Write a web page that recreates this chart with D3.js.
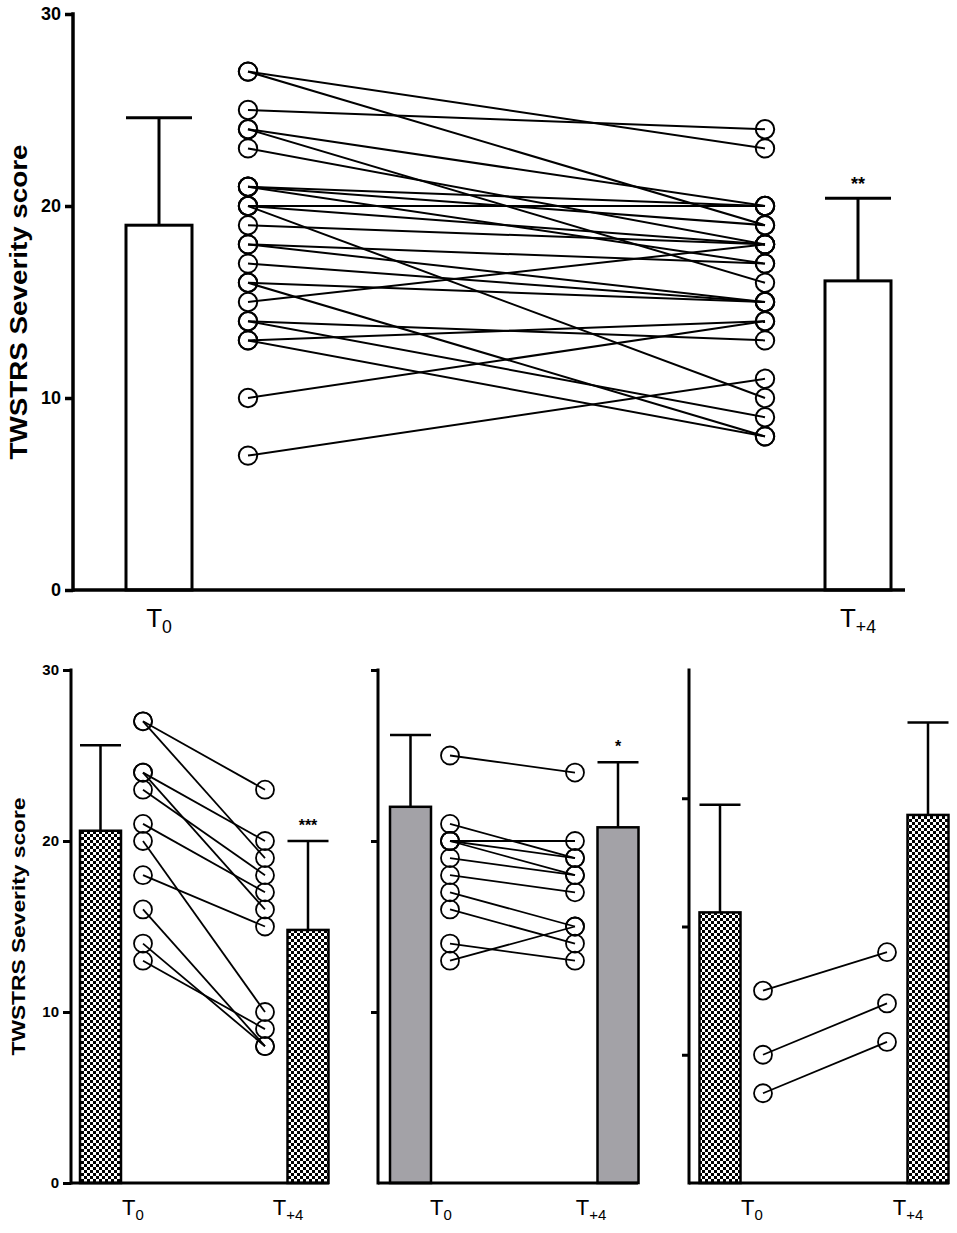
<!DOCTYPE html>
<html><head><meta charset="utf-8">
<script src="https://cdn.jsdelivr.net/npm/d3@7/dist/d3.min.js"></script>
<style>
body{margin:0;background:#fff}
svg{display:block}
text{font-family:"Liberation Sans",Arial,Helvetica,sans-serif;fill:#000}
</style>
</head><body>
<svg id="chart" width="957" height="1233"></svg>
<script>
// ---------- DATA ----------
const categories = ["T0", "T+4"];
const catMain = ["T", "T"];
const catSub = ["0", "+4"];
const yAxisTitle = "TWSTRS Severity score";
const tickValues = [0, 10, 20, 30];
const tickValues40 = [10, 20, 30];

// Top panel: all patients
const allMeans = [19.0, 16.1];
const allSD = [24.6, 20.4];
const allSig = ["", "**"];
const allBefore = [27,27,25,24,24,23,21,21,21,20,20,20,19,18,18,17,16,16,15,14,14,13,13,10,7];
const allAfter  = [23,19,24,20,16,18,19,17,20,20,18,10,18,17,15,15,15,8,18,13,9,14,8,14,11];

// Bottom-left panel
const g1Means = [20.6, 14.8];
const g1SD = [25.6, 20.0];
const g1Sig = ["", "***"];
const g1Before = [27,27,24,24,23,21,20,18,16,14,13];
const g1After  = [23,19,20,16,18,17,10,15,8,8,9];

// Bottom-middle panel
const g2Means = [22.0, 20.8];
const g2SD = [26.2, 24.6];
const g2Sig = ["", "*"];
const g2Before = [25,21,20,20,20,19,18,17,16,14,13];
const g2After  = [24,19,20,19,18,18,17,15,14,13,15];

// Bottom-right panel
const g3Means = [21.1, 28.7];
const g3SD = [29.5, 35.9];
const g3Sig = ["", ""];
const g3Before = [15,10,7];
const g3After  = [18,14,11];

// ---------- DRAW ----------
const svg = d3.select("#chart");
const defs = svg.append("defs");
const pat = defs.append("pattern").attr("id","checker")
  .attr("patternUnits","userSpaceOnUse").attr("width",6).attr("height",6);
pat.append("rect").attr("width",6).attr("height",6).attr("fill","#fff");
pat.append("rect").attr("x",0).attr("y",0).attr("width",3).attr("height",3).attr("fill","#000");
pat.append("rect").attr("x",3).attr("y",3).attr("width",3).attr("height",3).attr("fill","#000");

function panel(o) {
  const g = svg.append("g");
  const y = d3.scaleLinear().domain(o.domain).range([o.yBot, o.yTop]);
  const xBar = d3.scaleOrdinal().domain(categories).range(o.barX);
  const xDot = d3.scaleOrdinal().domain(categories).range(o.dotX);
  const xLab = d3.scaleOrdinal().domain(categories).range(o.labX);

  const bars = categories.map((c,i)=>({c, m:o.means[i], sd:o.sd[i], sig:o.sig[i]}));
  g.selectAll(".stem").data(bars).join("line")
    .attr("x1",d=>xBar(d.c)).attr("x2",d=>xBar(d.c))
    .attr("y1",d=>y(d.m)).attr("y2",d=>y(d.sd))
    .attr("stroke","#000").attr("stroke-width",o.sw);
  g.selectAll(".cap").data(bars).join("line")
    .attr("x1",d=>xBar(d.c)-o.capW/2).attr("x2",d=>xBar(d.c)+o.capW/2)
    .attr("y1",d=>y(d.sd)).attr("y2",d=>y(d.sd))
    .attr("stroke","#000").attr("stroke-width",o.sw);
  g.selectAll(".bar").data(bars).join("rect")
    .attr("x",d=>xBar(d.c)-o.barW/2).attr("width",o.barW)
    .attr("y",d=>y(d.m)).attr("height",d=>y(0)-y(d.m))
    .attr("fill",o.fill).attr("stroke","#000").attr("stroke-width",o.sw);
  g.selectAll(".sig").data(bars.filter(d=>d.sig)).join("text")
    .attr("x",d=>xBar(d.c)).attr("y",d=>y(d.sd)-o.sigOff)
    .attr("text-anchor","middle").attr("font-size",o.sigFs).attr("font-weight","bold")
    .text(d=>d.sig);

  const pairs = o.before.map((b,i)=>({b, a:o.after[i]}));
  g.selectAll(".pair").data(pairs).join("line")
    .attr("x1",xDot(categories[0])).attr("x2",xDot(categories[1]))
    .attr("y1",d=>y(d.b)).attr("y2",d=>y(d.a))
    .attr("stroke","#000").attr("stroke-width",o.lw);
  const pts = [];
  o.before.forEach(v=>pts.push({c:categories[0], v}));
  o.after.forEach(v=>pts.push({c:categories[1], v}));
  g.selectAll(".pt").data(pts).join("circle")
    .attr("cx",d=>xDot(d.c)).attr("cy",d=>y(d.v)).attr("r",o.r)
    .attr("fill","none").attr("stroke","#000").attr("stroke-width",o.lw);

  const ax = d3.axisLeft(y).tickValues(o.ticks).tickSize(o.tickLen).tickPadding(o.tickPad)
    .tickFormat(o.showLabels ? d3.format("d") : "");
  const axg = g.append("g").attr("transform",`translate(${o.axisX},0)`).call(ax);
  axg.select(".domain").remove();
  axg.selectAll(".tick line").attr("stroke","#000").attr("stroke-width",o.axW);
  axg.selectAll(".tick text").attr("font-size",o.tickFs).attr("font-weight","bold")
    .attr("font-family",'"Liberation Sans",Arial,sans-serif').attr("fill","#000");
  g.append("line").attr("x1",o.axisX).attr("x2",o.axisX)
    .attr("y1",o.yTop-o.axW/2).attr("y2",y(0)+o.axW/2).attr("stroke","#000").attr("stroke-width",o.axW);
  g.append("line").attr("x1",o.axisX).attr("x2",o.xEnd)
    .attr("y1",y(0)).attr("y2",y(0)).attr("stroke","#000").attr("stroke-width",o.axW);

  const lab = g.selectAll(".lab").data(categories).join("text")
    .attr("x",d=>xLab(d)).attr("y",o.labY).attr("text-anchor","middle")
    .attr("font-size",o.labFs);
  lab.append("tspan").text((d,i)=>catMain[i]);
  lab.append("tspan").attr("dy",o.labFs*0.22).attr("font-size",o.labFs*0.68)
    .text((d,i)=>catSub[i]);

  if (o.title) {
    g.append("text").attr("transform",`translate(${o.titleX},${(o.yTop+o.yBot)/2}) rotate(-90)`)
      .attr("text-anchor","middle").attr("font-size",o.titleFs).attr("font-weight","bold")
      .attr("textLength",o.titleLen).attr("lengthAdjust","spacingAndGlyphs")
      .text(yAxisTitle);
  }
}

panel({domain:[0,30], yTop:14, yBot:590, axisX:73, xEnd:905,
  barX:[159,858], dotX:[248,765], labX:[159,858], barW:66, capW:66,
  means:allMeans, sd:allSD, sig:allSig, before:allBefore, after:allAfter,
  fill:"#fff", sw:3, lw:2, axW:3.5, r:9.2, ticks:tickValues, showLabels:true,
  tickLen:8, tickPad:4, tickFs:18, labY:627, labFs:26, title:true, titleX:27, titleFs:23,
  titleLen:315, sigFs:18, sigOff:8});

panel({domain:[0,30], yTop:670, yBot:1183, axisX:71, xEnd:329,
  barX:[100.5,308], dotX:[143,265], labX:[133,288], barW:41, capW:41,
  means:g1Means, sd:g1SD, sig:g1Sig, before:g1Before, after:g1After,
  fill:"url(#checker)", sw:2.5, lw:1.8, axW:3, r:9, ticks:tickValues, showLabels:true,
  tickLen:8, tickPad:4, tickFs:15, labY:1215, labFs:22, title:true, titleX:25, titleFs:19,
  titleLen:258, sigFs:16, sigOff:10});

panel({domain:[0,30], yTop:670, yBot:1183, axisX:378, xEnd:638,
  barX:[410.5,618], dotX:[450,575], labX:[441,591], barW:41, capW:41,
  means:g2Means, sd:g2SD, sig:g2Sig, before:g2Before, after:g2After,
  fill:"#a3a2a7", sw:2.5, lw:1.8, axW:3, r:9, ticks:tickValues.filter(v=>v>0), showLabels:false,
  tickLen:7, tickPad:4, tickFs:15, labY:1215, labFs:22, title:false,
  sigFs:16, sigOff:10});

panel({domain:[0,40], yTop:670, yBot:1183, axisX:689, xEnd:949,
  barX:[720,928], dotX:[763,887], labX:[752,908], barW:41, capW:41,
  means:g3Means, sd:g3SD, sig:g3Sig, before:g3Before, after:g3After,
  fill:"url(#checker)", sw:2.5, lw:1.8, axW:3, r:9, ticks:tickValues40, showLabels:false,
  tickLen:7, tickPad:4, tickFs:15, labY:1215, labFs:22, title:false,
  sigFs:16, sigOff:10});
</script>
</body></html>
